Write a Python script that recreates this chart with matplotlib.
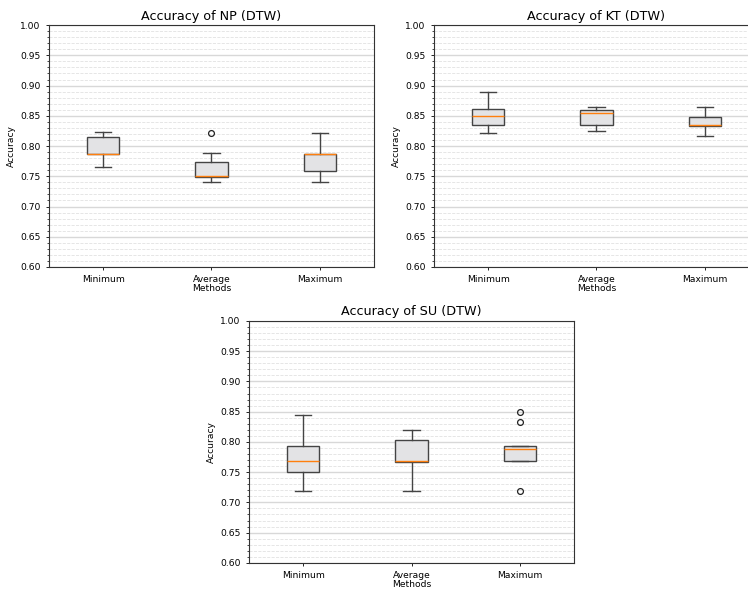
import matplotlib
matplotlib.use("Agg")
import matplotlib.pyplot as plt
from matplotlib.ticker import MultipleLocator

methods = ["Minimum", "Average", "Maximum"]

# accuracy per method
np_min = [0.766, 0.776, 0.786, 0.786, 0.787, 0.800, 0.815, 0.820, 0.823]
np_avg = [0.741, 0.745, 0.749, 0.749, 0.750, 0.765, 0.774, 0.789, 0.821]
np_max = [0.741, 0.750, 0.758, 0.770, 0.786, 0.786, 0.787, 0.800, 0.822]

kt_min = [0.821, 0.828, 0.834, 0.840, 0.849, 0.855, 0.862, 0.875, 0.889]
kt_avg = [0.825, 0.830, 0.834, 0.845, 0.854, 0.856, 0.859, 0.862, 0.865]
kt_max = [0.816, 0.825, 0.833, 0.833, 0.834, 0.840, 0.848, 0.855, 0.865]

su_min = [0.718, 0.735, 0.750, 0.760, 0.768, 0.780, 0.794, 0.820, 0.844]
su_avg = [0.718, 0.740, 0.767, 0.768, 0.769, 0.790, 0.803, 0.810, 0.819]
su_max = [0.718, 0.768, 0.769, 0.780, 0.789, 0.790, 0.794, 0.833, 0.849]

datasets = [
    ("NP", [np_min, np_avg, np_max]),
    ("KT", [kt_min, kt_avg, kt_max]),
    ("SU", [su_min, su_avg, su_max]),
]

fig = plt.figure(figsize=(7.48, 5.9), dpi=100)
rects = [
    [0.0655, 0.5475, 0.4345, 0.410],
    [0.5802, 0.5475, 0.4345, 0.410],
    [0.3329, 0.0460, 0.4345, 0.410],
]

edge = "#444444"
for (name, data), rect in zip(datasets, rects):
    ax = fig.add_axes(rect)
    ax.boxplot(data, widths=0.3, patch_artist=True,
               boxprops=dict(facecolor="#e3e3e5", edgecolor=edge, linewidth=1.0),
               whiskerprops=dict(color=edge, linewidth=1.0),
               capprops=dict(color=edge, linewidth=1.0),
               medianprops=dict(color="#ff7f0e", linewidth=1.0),
               flierprops=dict(marker="o", markerfacecolor="none",
                               markeredgecolor="#222222", markersize=4.2,
                               markeredgewidth=0.9))
    ax.set_xticks([1, 2, 3])
    ax.set_xticklabels(methods)
    ax.set_ylim(0.6, 1.0)
    ax.yaxis.set_major_locator(MultipleLocator(0.05))
    ax.yaxis.set_minor_locator(MultipleLocator(0.01))
    ax.yaxis.set_major_formatter(matplotlib.ticker.FormatStrFormatter("%.2f"))
    ax.grid(axis="y", which="major", color="#d8d8d8", linestyle="-", linewidth=1.0)
    ax.grid(axis="y", which="minor", color="#e2e2e2", linestyle="--", linewidth=0.6)
    ax.set_axisbelow(True)
    ax.tick_params(axis="both", which="major", labelsize=6.6, length=2.5, width=0.6)
    ax.tick_params(axis="y", which="minor", length=1.5, width=0.5)
    for sp in ax.spines.values():
        sp.set_color("#333333")
        sp.set_linewidth(0.8)
    ax.set_title(f"Accuracy of {name} (DTW)", fontsize=9.2, pad=4)
    ax.set_xlabel("Methods", fontsize=6.6, labelpad=0)
    ax.set_ylabel("Accuracy", fontsize=6.6, labelpad=3)

fig.savefig("out.png", dpi=100)
